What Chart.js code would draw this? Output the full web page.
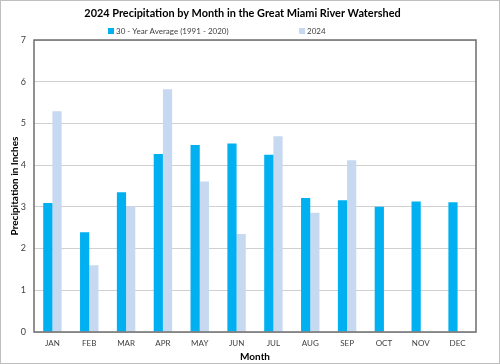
<!DOCTYPE html>
<html>
<head>
<meta charset="utf-8">
<script src="https://cdn.jsdelivr.net/npm/chart.js@4"></script>
<style>
  html, body { margin: 0; padding: 0; background: #fff; }
  #wrap { width: 498px; height: 362px; border: 1px solid #bfbfbf; position: relative; }
  canvas { display: block; }
</style>
</head>
<body>
<div id="wrap"><canvas id="precipChart" width="498" height="362"></canvas></div>
<script>
// Monthly precipitation, inches
const months = ['JAN', 'FEB', 'MAR', 'APR', 'MAY', 'JUN', 'JUL', 'AUG', 'SEP', 'OCT', 'NOV', 'DEC'];
const avg30yr = [3.09, 2.39, 3.35, 4.27, 4.48, 4.52, 4.25, 3.21, 3.16, 3.00, 3.13, 3.11];
const precip2024 = [5.29, 1.60, 3.01, 5.82, 3.61, 2.35, 4.69, 2.86, 4.12, null, null, null];
const yTicks = [0, 1, 2, 3, 4, 5, 6, 7];

const chartTitle = '2024 Precipitation by Month in the Great Miami River Watershed';
const fontFamily = 'Lato, "Liberation Sans", sans-serif';

// pick a font size so a text fills the given width (the original uses a narrower font)
function fitFontSize(text, weight, targetWidth, baseSize) {
    const c = document.createElement('canvas').getContext('2d');
    c.font = weight + ' ' + baseSize + 'px ' + fontFamily;
    const w = c.measureText(text).width;
    return Math.round(baseSize * targetWidth / w * 10) / 10;
}

const titleSize = fitFontSize(chartTitle, 'bold', 316, 13);

// draws the box round the plot area and the legend row under the title
const boxAndLegend = {
    id: 'boxAndLegend',
    afterDraw(chart) {
        const ctx = chart.ctx;
        const area = chart.chartArea;
        ctx.save();
        ctx.strokeStyle = '#6d6d6d';
        ctx.lineWidth = 1.5;
        ctx.strokeRect(area.left, area.top, area.right - area.left, area.bottom - area.top);

        const legendSize = fitFontSize(chart.data.datasets[0].label, 'normal', 113, 9);
        ctx.font = legendSize + 'px ' + fontFamily;
        ctx.textBaseline = 'middle';
        const legendX = [107, 298];
        chart.data.datasets.forEach((ds, i) => {
            ctx.fillStyle = ds.backgroundColor;
            ctx.fillRect(legendX[i], 27, 6, 6);
            ctx.fillStyle = '#404040';
            ctx.fillText(ds.label, legendX[i] + 8, 30.5);
        });
        ctx.restore();
    }
};

const ctx = document.getElementById('precipChart');
new Chart(ctx, {
    type: 'bar',
    data: {
        labels: months,
        datasets: [{
            label: '30 - Year Average (1991 - 2020)',
            data: avg30yr,
            backgroundColor: '#00b0f0',
            categoryPercentage: 0.5,
            barPercentage: 1.0
        }, {
            label: '2024',
            data: precip2024,
            backgroundColor: '#c6d9f1',
            categoryPercentage: 0.5,
            barPercentage: 1.0
        }]
    },
    options: {
        responsive: false,
        animation: false,
        layout: {
            padding: { left: 8, right: 23, top: 0, bottom: 0 }
        },
        plugins: {
            legend: { display: false },
            tooltip: { enabled: false },
            title: {
                display: true,
                text: chartTitle,
                color: '#000',
                font: { family: fontFamily, size: titleSize, weight: 'bold' },
                padding: { top: 6, bottom: 39 - 6 - titleSize * 1.2 }
            }
        },
        scales: {
            x: {
                grid: { display: false, drawTicks: false },
                border: { display: false },
                afterFit(axis) { axis.height = 31; },
                ticks: {
                    color: '#404040',
                    font: { family: fontFamily, size: 8 },
                    padding: 7
                },
                title: {
                    display: true,
                    text: 'Month',
                    color: '#000',
                    font: { family: fontFamily, size: 10, weight: 'bold' },
                    padding: { top: 0, bottom: 0 }
                }
            },
            y: {
                min: 0,
                max: 7,
                afterBuildTicks(axis) {
                    axis.ticks = yTicks.map(v => ({ value: v }));
                },
                afterFit(axis) { axis.width = 25; },
                grid: { color: '#d0d0d0', lineWidth: 1, drawTicks: false },
                border: { display: false },
                ticks: {
                    color: '#404040',
                    font: { family: fontFamily, size: 9 },
                    padding: 8
                },
                title: {
                    display: true,
                    text: 'Precipitation in Inches',
                    color: '#000',
                    font: { family: fontFamily, size: 10, weight: 'bold' },
                    padding: { top: 0, bottom: 0 }
                }
            }
        }
    },
    plugins: [boxAndLegend]
});
</script>
</body>
</html>
